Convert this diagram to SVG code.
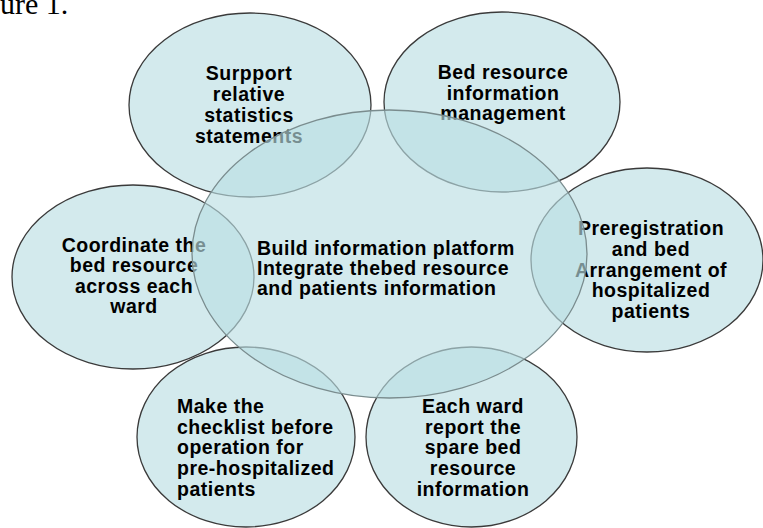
<svg xmlns="http://www.w3.org/2000/svg" width="763" height="528" viewBox="0 0 763 528">
<style>
.bg{fill:#ffffff}
.sat{fill:#badee3;fill-opacity:0.64;stroke:#3a3a3a;stroke-width:1.3}
.hub{fill:#badee3;fill-opacity:0.64;stroke:#7a8c8e;stroke-width:1.3}
.t{font-family:"Liberation Sans",Arial,sans-serif;font-weight:bold;font-size:19.5px;letter-spacing:0.5px;fill:#000}
.c{text-anchor:middle}
.cap{font-family:"Liberation Serif","Times New Roman",serif;font-size:30px;fill:#000}
</style>
<rect class="bg" x="0" y="0" width="763" height="528"/>
<text class="cap" x="0" y="14">ure 1.</text>
<g id="node-stats">
<ellipse class="sat" cx="250" cy="105" rx="121" ry="92"/>
<text class="t c" x="249" y="80">Surpport</text>
<text class="t c" x="249" y="101">relative</text>
<text class="t c" x="249" y="122">statistics</text>
<text class="t c" x="249" y="143">statements</text>
</g>
<g id="node-bedinfo">
<ellipse class="sat" cx="502" cy="102" rx="118" ry="90"/>
<text class="t c" x="503" y="79">Bed resource</text>
<text class="t c" x="503" y="100">information</text>
<text class="t c" x="503" y="120">management</text>
</g>
<g id="node-coordinate">
<ellipse class="sat" cx="133" cy="277" rx="121" ry="92"/>
<text class="t c" x="134" y="252">Coordinate the</text>
<text class="t c" x="134" y="272">bed resource</text>
<text class="t c" x="134" y="293">across each</text>
<text class="t c" x="134" y="313">ward</text>
</g>
<g id="node-prereg">
<ellipse class="sat" cx="647" cy="260" rx="116" ry="92"/>
<text class="t c" x="651" y="235">Preregistration</text>
<text class="t c" x="651" y="256">and bed</text>
<text class="t c" x="651" y="277">Arrangement of</text>
<text class="t c" x="651" y="297">hospitalized</text>
<text class="t c" x="651" y="318">patients</text>
</g>
<g id="node-checklist">
<ellipse class="sat" cx="246" cy="437" rx="109" ry="90"/>
<text class="t" x="177" y="413">Make the</text>
<text class="t" x="177" y="434">checklist before</text>
<text class="t" x="177" y="454">operation for</text>
<text class="t" x="177" y="475">pre-hospitalized</text>
<text class="t" x="177" y="496">patients</text>
</g>
<g id="node-report">
<ellipse class="sat" cx="471.5" cy="437" rx="105.5" ry="90"/>
<text class="t c" x="473" y="413">Each ward</text>
<text class="t c" x="473" y="434">report the</text>
<text class="t c" x="473" y="454">spare bed</text>
<text class="t c" x="473" y="475">resource</text>
<text class="t c" x="473" y="496">information</text>
</g>
<g id="node-hub">
<ellipse class="hub" cx="389.5" cy="254" rx="197.5" ry="144"/>
<text class="t" x="257" y="255">Build information platform</text>
<text class="t" x="257" y="275">Integrate thebed resource</text>
<text class="t" x="257" y="295">and patients information</text>
</g>
<g id="connectors"></g>
</svg>
